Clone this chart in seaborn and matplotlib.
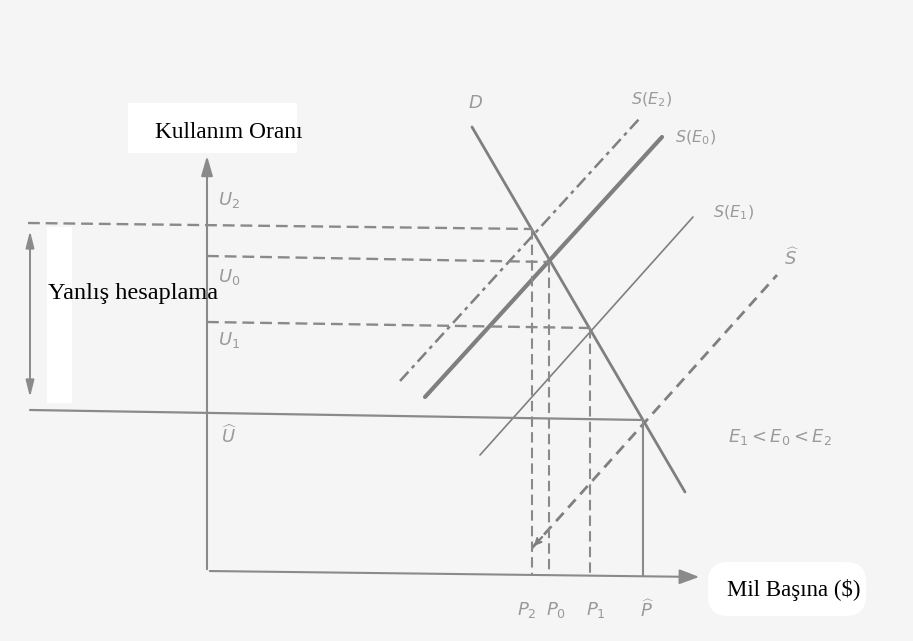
import numpy as np
import pandas as pd
import matplotlib
matplotlib.use('Agg')
import matplotlib.pyplot as plt
from matplotlib.patches import Rectangle, FancyBboxPatch
import seaborn as sns

# diagram units: price per mile along x, utilisation rate along y (origin at axis corner)
curves = ['D', 'S(E0)', 'S(E2)', 'S(E1)', 'S_hat']
curve_p = [[265, 478], [218, 455], [193, 433], [273, 486], [325, 570]]
curve_u = [[445, 80], [175, 435], [191, 454], [117, 355], [24, 297]]

# equilibrium points (price, utilisation)
eq_names = ['E2', 'E0', 'E1', 'hat']
eq_p = [325, 342, 383, 436]
eq_u = [343, 310, 244, 152]

u_labels = ['$U_2$', '$U_0$', '$U_1$', r'$\widehat{U}$']
p_labels = ['$P_2$', '$P_0$', '$P_1$', r'$\widehat{P}$']

rows = []
for name, ps, us in zip(curves, curve_p, curve_u):
    for p, u in zip(ps, us):
        rows.append({'curve': name, 'p': p, 'u': u})
df = pd.DataFrame(rows)

sns.set_style('white')
plt.rcParams['font.family'] = ['DejaVu Sans']
plt.rcParams['mathtext.fontset'] = 'dejavusans'

bg = '#f5f5f5'
fig = plt.figure(figsize=(9.13, 6.41), dpi=100, facecolor=bg)
ax = fig.add_axes([0, 0, 1, 1])
ax.set_facecolor(bg)
ax.set_xlim(-207, 706)
ax.set_ylim(-69, 572)
ax.axis('off')

# white paste-over patches from the scan
ax.add_patch(Rectangle((-79, 419), 169, 50, color='white', lw=0, zorder=0))
ax.add_patch(FancyBboxPatch((505, -40), 150, 46, boxstyle='round,pad=4,rounding_size=20',
                            color='white', lw=0, zorder=0))
ax.add_patch(Rectangle((-160, 169), 25, 176, color='white', lw=0, zorder=0))

sns.lineplot(data=df, x='p', y='u', hue='curve', style='curve', size='curve',
             palette={c: '#7f7f7f' for c in curves},
             dashes={'D': '', 'S(E0)': '', 'S(E2)': (5, 2, 1.5, 2), 'S(E1)': '', 'S_hat': (4, 2.5)},
             sizes={'D': 2.0, 'S(E0)': 3.0, 'S(E2)': 1.8, 'S(E1)': 1.2, 'S_hat': 2.0},
             estimator=None, sort=False, legend=False, ax=ax)

# small arrow head at the lower end of S hat
ax.annotate('', xy=(curve_p[4][0], curve_u[4][0]), xytext=(curve_p[4][0] + 12, curve_u[4][0] + 13),
            arrowprops=dict(arrowstyle='->', color='#7f7f7f', lw=1.6))

# guide lines to the axes (slight scan tilt kept)
tilt = -6 / 500
ax.plot([-179, eq_p[0]], [eq_u[0] + 6, eq_u[0]], color='#8a8a8a', lw=1.7, ls=(0, (5, 2.5)))
for k in (1, 2):
    ax.plot([0, eq_p[k]], [eq_u[k] + 6, eq_u[k]], color='#8a8a8a', lw=1.7, ls=(0, (5, 2.5)))
ax.plot([-177, eq_p[3]], [eq_u[3] + 10, eq_u[3]], color='#8a8a8a', lw=1.6)
for k in range(3):
    ax.plot([eq_p[k], eq_p[k]], [eq_u[k], eq_p[k] * tilt + 1], color='#8a8a8a', lw=1.5,
            ls=(0, (5, 2.5)))
ax.plot([eq_p[3], eq_p[3]], [eq_u[3], eq_p[3] * tilt + 1], color='#8a8a8a', lw=1.5)

# axes with arrows
ax.annotate('', xy=(0, 419), xytext=(0, 0),
            arrowprops=dict(arrowstyle='-|>,head_length=1.2,head_width=0.35', color='#8a8a8a', lw=1.5))
ax.annotate('', xy=(495, -5), xytext=(0, 1),
            arrowprops=dict(arrowstyle='-|>,head_length=1.2,head_width=0.45', color='#8a8a8a', lw=1.5))
ax.annotate('', xy=(-177, 344), xytext=(-177, 172),
            arrowprops=dict(arrowstyle='<|-|>,head_length=1.0,head_width=0.25', color='#8a8a8a', lw=1.4))

# titles (pasted serif text)
serif = dict(family=['Liberation Serif', 'DejaVu Serif'], color='black')
ax.text(22, 439, 'Kullanım Oranı', ha='center', va='center', fontsize=16.8, **serif)
ax.text(-74, 279, 'Yanlış hesaplama', ha='center', va='center', fontsize=17.5, **serif)
ax.text(587, -18, 'Mil Başına ($)', ha='center', va='center', fontsize=16.5, **serif)

# handwritten-style grey labels
lab = dict(color='#9a9a9a', fontsize=13, ha='center', va='center')
for txt, u, du in zip(u_labels, eq_u, [29, -15, -12, -16]):
    ax.text(22, u + du, txt, **lab)
for txt, p, dp in zip(p_labels, eq_p, [-5, 7, 6, 4]):
    ax.text(p + dp, -38, txt, **lab)
ax.text(268, 469, '$D$', **lab)
ax.text(444, 472, '$S(E_2)$', **dict(lab, fontsize=11.5))
ax.text(488, 434, '$S(E_0)$', **dict(lab, fontsize=11.5))
ax.text(526, 359, '$S(E_1)$', **dict(lab, fontsize=11.5))
ax.text(585, 314, r'$\widehat{S}$', **lab)
ax.text(573, 135, '$E_1 < E_0 < E_2$', **lab)

fig.savefig('out.png', dpi=100, facecolor=bg)
